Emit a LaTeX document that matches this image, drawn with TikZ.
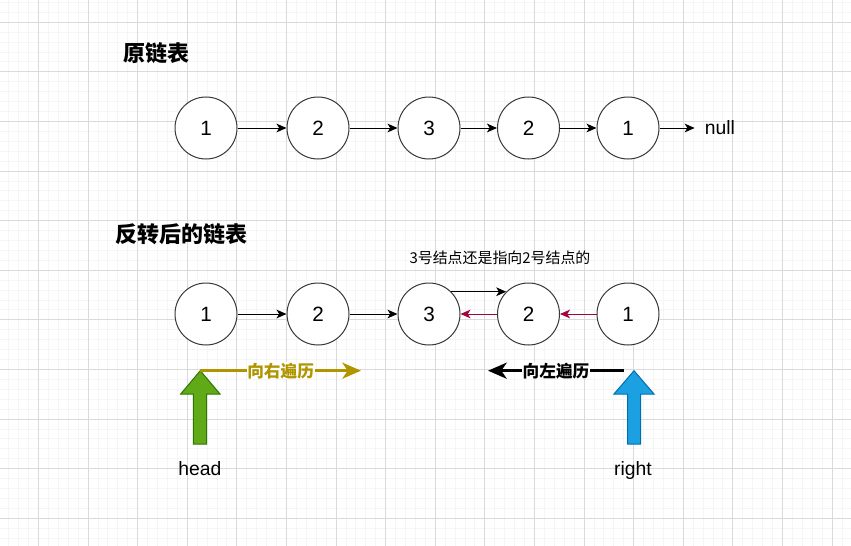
\documentclass[tikz,border=0pt]{standalone}
\usepackage{fontspec}
\setmainfont{Liberation Sans}
\newfontfamily\cjk{Noto Sans CJK SC}
\usetikzlibrary{arrows.meta, positioning}
\definecolor{gridminor}{RGB}{245,245,245}
\definecolor{gridmajor}{RGB}{218,218,218}
\definecolor{ringgray}{RGB}{54,57,61}
\definecolor{linkred}{RGB}{165,0,64}
\definecolor{walkgold}{RGB}{176,149,0}
\definecolor{headgreen}{RGB}{96,169,23}
\definecolor{headgreendark}{RGB}{45,118,0}
\definecolor{rightblue}{RGB}{27,161,226}
\definecolor{rightbluedark}{RGB}{0,110,175}

\tikzset{
  listnode/.style={circle, draw=ringgray, line width=0.75pt, fill=white, minimum size=46.5pt, inner sep=0pt, font=\fontsize{15.5}{17}\selectfont},
  link/.style={line width=0.75pt, -{Stealth[length=7.5pt, width=6.5pt, inset=2pt]}},
  title/.style={font=\cjk\bfseries\fontsize{16.5}{18}\selectfont},
  walklabel/.style={fill=white, inner sep=0.5pt, font=\cjk\bfseries\fontsize{12.5}{14}\selectfont},
  walk/.style={line width=2.2pt, -{Stealth[length=14pt, width=12pt, inset=4pt]}},
  pointer/.style={anchor=base, font=\fontsize{14.5}{16}\selectfont}
}

\begin{document}
\begin{tikzpicture}[x=0.75pt, y=-0.75pt]
    \useasboundingbox (0,0) rectangle (851,546);
    % Grid
    \begin{scope}
        \clip (0,0) rectangle (851,546);
        \fill[white] (0,0) rectangle (851,546);
        \foreach \i in {0,...,86} \draw[gridminor, line width=0.75pt] (8.74+9.92*\i, 0) -- (8.74+9.92*\i, 546);
        \foreach \j in {0,...,55} \draw[gridminor, line width=0.75pt] (0, 2.46+9.92*\j) -- (851, 2.46+9.92*\j);
        \foreach \i in {0,...,17} \draw[gridmajor, line width=0.75pt] (38.5+49.6*\i, 0) -- (38.5+49.6*\i, 546);
        \foreach \j in {0,...,11} \draw[gridmajor, line width=0.75pt] (0, 22.3+49.6*\j) -- (851, 22.3+49.6*\j);
    \end{scope}

    % Original list
    \node[title] (origtitle) at (156, 53) {原链表};
    \node[listnode] (a1) at (206, 128) {1};
    \node[listnode] (a2) at (318, 128) {2};
    \node[listnode] (a3) at (429, 128) {3};
    \node[listnode] (a4) at (528.5, 128) {2};
    \node[listnode] (a5) at (628, 128) {1};
    \node[font=\fontsize{14.5}{16}\selectfont, inner xsep=7.5pt] (null) at (720, 128) {null};
    \draw[link] (a1) -- (a2);
    \draw[link] (a2) -- (a3);
    \draw[link] (a3) -- (a4);
    \draw[link] (a4) -- (a5);
    \draw[link] (a5) -- (null);

    % Reversed list
    \node[title] (revtitle) at (181, 234) {反转后的链表};
    \node[font=\cjk\fontsize{11.2}{13}\selectfont] (note) at (500, 258) {3号结点还是指向2号结点的};
    \node[listnode] (b1) at (206, 314) {1};
    \node[listnode] (b2) at (318, 314) {2};
    \node[listnode] (b3) at (429, 314) {3};
    \node[listnode] (b4) at (528.5, 314) {2};
    \node[listnode] (b5) at (628, 314) {1};
    \draw[link] (b1) -- (b2);
    \draw[link] (b2) -- (b3);
    \draw[link] (b3.45) -- (b4.135);
    \draw[link, linkred] (b4) -- (b3);
    \draw[link, linkred] (b5) -- (b4);

    % head pointer
    \draw[draw=headgreendark, fill=headgreen, line width=0.75pt] (200.3,370.7) -- (220,394) -- (206.7,394) -- (206.7,444) -- (193.3,444) -- (193.3,394) -- (180.7,394) -- cycle;
    \coordinate (headtip) at (200.3,370.7);
    \coordinate (goldend) at (361,370.7);
    \node[pointer] (head) at (200, 475) {head};
    \draw[walk, walkgold] (headtip) -- node[walklabel, pos=0.5] (walkright) {向右遍历} (goldend);

    % right pointer
    \draw[draw=rightbluedark, fill=rightblue, line width=0.75pt] (634,370.7) -- (654,394) -- (640.5,394) -- (640.5,444) -- (627.5,444) -- (627.5,394) -- (614,394) -- cycle;
    \coordinate (righttip) at (624,370.7);
    \coordinate (blackend) at (488,370.7);
    \node[pointer] (right) at (633, 475) {right};
    \draw[walk, black] (righttip) -- node[walklabel, pos=0.5] (walkleft) {向左遍历} (blackend);
\end{tikzpicture}
\end{document}
